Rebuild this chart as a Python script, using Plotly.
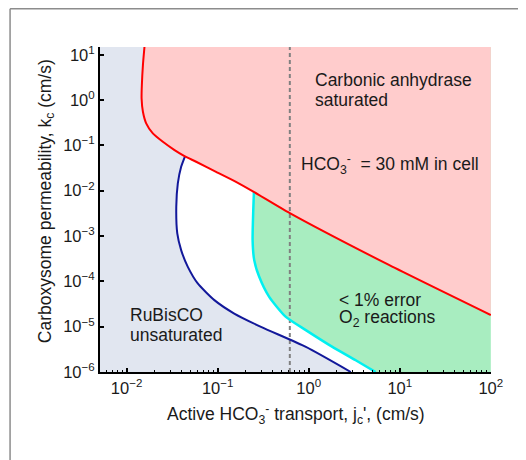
import math
import plotly.graph_objs as go

# axis limits (cm/s)
x_lim = [0.0051, 100]
y_lim = [1e-6, 14.8]

# tick labels
x_tick_vals = [0.01, 0.1, 1, 10, 100]
x_tick_text = ['10<sup>−2</sup>', '10<sup>−1</sup>', '10<sup>0</sup>', '10<sup>1</sup>', '10<sup>2</sup>']
x_minor_vals = [0.006, 0.007, 0.008, 0.009,
                0.02, 0.03, 0.04, 0.05, 0.06, 0.07, 0.08, 0.09,
                0.2, 0.3, 0.4, 0.5, 0.6, 0.7, 0.8, 0.9,
                2, 3, 4, 5, 6, 7, 8, 9,
                20, 30, 40, 50, 60, 70, 80, 90]
y_tick_vals = [1e-6, 1e-5, 1e-4, 1e-3, 1e-2, 1e-1, 1, 10]
y_tick_text = ['10<sup>−6</sup>', '10<sup>−5</sup>', '10<sup>−4</sup>', '10<sup>−3</sup>',
               '10<sup>−2</sup>', '10<sup>−1</sup>', '10<sup>0</sup>', '10<sup>1</sup>']

# red boundary: carbonic anhydrase saturated
red_jc = [0.0157, 0.0151, 0.0147, 0.0146, 0.0151, 0.0164, 0.0194, 0.025, 0.0336, 0.0432,
          0.058, 0.096, 0.159, 0.252, 0.62, 7.6, 100]
red_kc = [14.8, 5.9, 2.14, 1.09, 0.55, 0.306, 0.184, 0.120, 0.0787, 0.058,
          0.0435, 0.0261, 0.0157, 0.0093, 0.0032, 2.3e-4, 1.8e-5]

# navy boundary: RuBisCO unsaturated
blue_jc = [0.044, 0.0397, 0.0365, 0.0351, 0.036, 0.0397, 0.047, 0.0604, 0.092, 0.152,
           0.299, 0.931, 2.9]
blue_kc = [0.059, 0.0337, 0.0145, 0.00441, 0.00114, 4.89e-4, 2.09e-4, 9.0e-5, 3.85e-5, 1.95e-5,
           9.9e-6, 3.58e-6, 1e-6]

# cyan boundary: < 1% error O2 reactions
cyan_jc = [0.250, 0.246, 0.242, 0.252, 0.286, 0.368, 0.561, 0.929, 1.82, 3.28, 5.43]
cyan_kc = [0.0093, 0.00373, 8.1e-4, 2.94e-4, 1.26e-4, 4.55e-5, 1.64e-5, 8.4e-6, 3.58e-6, 1.82e-6, 1e-6]

# HCO3- = 30 mM in cell
jc_30mM = 0.62

font = 'Liberation Sans, Arial, sans-serif'

# white region right of navy curve
trace_white = go.Scatter(
    x = blue_jc + [x_lim[1], x_lim[1]],
    y = blue_kc + [y_lim[0], y_lim[1]],
    fill = 'toself', fillcolor = 'white', mode = 'none', showlegend = False
)

# green region right of cyan curve
trace_green = go.Scatter(
    x = cyan_jc + [x_lim[1], x_lim[1]],
    y = cyan_kc + [y_lim[0], y_lim[1]],
    fill = 'toself', fillcolor = '#A8EDC0', mode = 'none', showlegend = False
)

# pink region above red curve
trace_pink = go.Scatter(
    x = red_jc + [x_lim[1]],
    y = red_kc + [y_lim[1]],
    fill = 'toself', fillcolor = '#FFCCCC', mode = 'none', showlegend = False
)

trace_dash = go.Scatter(
    x = [jc_30mM, jc_30mM], y = y_lim, mode = 'lines',
    line = dict(color = '#808080', width = 2, dash = '4px,3px'), showlegend = False
)

trace_blue = go.Scatter(x = blue_jc, y = blue_kc, mode = 'lines',
                        line = dict(color = '#12189A', width = 2, shape = 'spline', smoothing = 0.6),
                        showlegend = False)
trace_cyan = go.Scatter(x = cyan_jc, y = cyan_kc, mode = 'lines',
                        line = dict(color = '#00F0F0', width = 2.5, shape = 'spline', smoothing = 0.6),
                        showlegend = False)
trace_red = go.Scatter(x = red_jc, y = red_kc, mode = 'lines',
                       line = dict(color = '#FF0000', width = 2, shape = 'spline', smoothing = 0.6),
                       showlegend = False)

# region labels (positions in log10 units of the axes)
def label(x, y, text):
    return dict(x = x, y = y, xref = 'x', yref = 'y', text = text, showarrow = False,
                xanchor = 'left', yanchor = 'middle', font = dict(size = 17.5, color = '#1A1A1A'))

annotations = [
    label(0.05, 0.44, 'Carbonic anhydrase'),
    label(0.05, 0.0, 'saturated'),
    label(-0.105, -1.43, 'HCO<sub>3</sub><sup>-</sup>  = 30 mM in cell'),
    label(0.31, -4.41, '< 1% error'),
    label(0.31, -4.82, 'O<sub>2</sub> reactions'),
    label(-1.98, -4.75, 'RuBisCO'),
    label(-1.98, -5.19, 'unsaturated'),
    # axis titles
    dict(x = 0.5, y = -0.13, xref = 'paper', yref = 'paper', showarrow = False,
         xanchor = 'center', yanchor = 'middle',
         text = "Active HCO<sub>3</sub><sup>-</sup> transport, j<sub>c</sub>', (cm/s)",
         font = dict(size = 17.5, color = '#1A1A1A')),
    dict(x = -0.137, y = 0.527, xref = 'paper', yref = 'paper', showarrow = False,
         xanchor = 'center', yanchor = 'middle', textangle = -90,
         text = 'Carboxysome permeability, k<sub>c</sub> (cm/s)',
         font = dict(size = 17.5, color = '#1A1A1A')),
]

# gray frame around the figure
shapes = [
    dict(type = 'line', xref = 'paper', yref = 'paper', x0 = -0.23, x1 = 1.2, y0 = 1.118, y1 = 1.118,
         line = dict(color = '#8C8C8C', width = 1.5)),
    dict(type = 'line', xref = 'paper', yref = 'paper', x0 = -0.23, x1 = -0.23, y0 = 1.118, y1 = -0.3,
         line = dict(color = '#8C8C8C', width = 1.5)),
]

axis_style = dict(
    type = 'log', showgrid = False, zeroline = False, automargin = False,
    showline = True, linecolor = 'black', linewidth = 2, mirror = False,
    ticks = 'inside', ticklen = 4, tickcolor = 'black', tickwidth = 1.5,
    tickfont = dict(size = 16.5, color = '#1A1A1A')
)

# page body adds an 8px offset, so the figure is 8px smaller than the window
layout = go.Layout(
    width = 518, height = 452,
    margin = dict(l = 92, r = 34.5, t = 39, b = 88),
    paper_bgcolor = 'white', plot_bgcolor = '#E1E6F0',
    font = dict(family = font, color = '#1A1A1A'),
    showlegend = False,
    xaxis = dict(axis_style,
                 range = [math.log10(x_lim[0]), 2.002],
                 tickvals = x_tick_vals, ticktext = x_tick_text,
                 minor = dict(tickvals = x_minor_vals, ticks = 'inside', ticklen = 2.5,
                              tickcolor = 'black', tickwidth = 1, showgrid = False)),
    yaxis = dict(axis_style,
                 range = [math.log10(y_lim[0]), math.log10(y_lim[1])],
                 tickvals = y_tick_vals, ticktext = y_tick_text),
    annotations = annotations,
    shapes = shapes
)

fig = go.Figure(data = [trace_white, trace_green, trace_pink, trace_dash, trace_blue, trace_cyan, trace_red],
                layout = layout)
fig.write_html('out.html')
